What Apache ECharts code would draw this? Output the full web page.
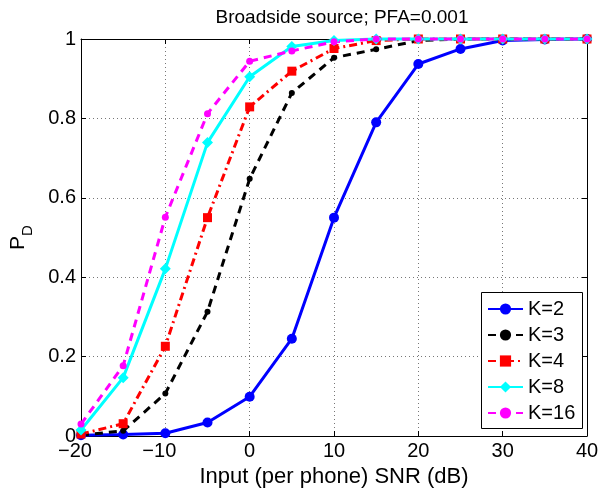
<!DOCTYPE html>
<html>
<head>
<meta charset="utf-8">
<script src="https://cdn.jsdelivr.net/npm/echarts@6/dist/echarts.min.js"></script>
<style>
    html, body { margin: 0; padding: 0; background: #fff; }
    #main { width: 600px; height: 491px; }
</style>
</head>
<body>
<div id="main"></div>
<script>
    // SNR values (dB) along x
    var snr = [-20, -15, -10, -5, 0, 5, 10, 15, 20, 25, 30, 35, 40];
    var seriesNames = ['K=2', 'K=3', 'K=4', 'K=8', 'K=16'];
    var k2 = [0.002, 0.004, 0.007, 0.034, 0.099, 0.245, 0.55, 0.79, 0.937, 0.975, 0.996, 0.999, 1];
    var k3 = [0.002, 0.013, 0.107, 0.313, 0.648, 0.864, 0.953, 0.974, 0.996, 1, 1, 1, 1];
    var k4 = [0.005, 0.031, 0.226, 0.55, 0.829, 0.919, 0.976, 0.996, 1, 1, 1, 1, 1];
    var k8 = [0.015, 0.147, 0.421, 0.739, 0.905, 0.981, 0.996, 1, 1, 1, 1, 1, 1];
    var k16 = [0.03, 0.177, 0.551, 0.812, 0.944, 0.97, 0.993, 1, 1, 1, 1, 1, 1];

    function pairs(vals) {
        return snr.map(function (x, i) { return [x, vals[i]]; });
    }

    var font = 'Liberation Sans, Arial, sans-serif';
    var myChart = echarts.init(document.getElementById('main'));

    var series = [
        { name: seriesNames[0], data: pairs(k2), color: '#0000ff', symbol: 'circle', symbolSize: 10, line: 'solid' },
        { name: seriesNames[1], data: pairs(k3), color: '#000000', symbol: 'circle', symbolSize: 6, line: [8, 6] },
        { name: seriesNames[2], data: pairs(k4), color: '#ff0000', symbol: 'rect', symbolSize: 9, line: [8, 4, 2, 4] },
        { name: seriesNames[3], data: pairs(k8), color: '#00ffff', symbol: 'diamond', symbolSize: 11, line: 'solid' },
        { name: seriesNames[4], data: pairs(k16), color: '#ff00ff', symbol: 'circle', symbolSize: 7, line: [8, 6] }
    ].map(function (s) {
        return {
            name: s.name,
            type: 'line',
            data: s.data,
            symbol: s.symbol,
            symbolSize: s.symbolSize,
            showSymbol: true,
            clip: false,
            xAxisIndex: 0,
            yAxisIndex: 0,
            color: s.color,
            itemStyle: { color: s.color },
            lineStyle: { color: s.color, width: 3, type: s.line }
        };
    });

    var dotted = { show: true, lineStyle: { color: '#777', width: 1, type: [1, 3] } };

    myChart.setOption({
        backgroundColor: '#fff',
        animation: false,
        title: {
            text: 'Broadside source; PFA=0.001',
            left: 337,
            textAlign: 'center',
            top: 3,
            textStyle: { fontFamily: font, fontSize: 19, fontWeight: 'normal', color: '#000' }
        },
        // legend frame
        graphic: [{
            type: 'rect',
            z: 3,
            shape: { x: 481.5, y: 292.5, width: 101, height: 136 },
            style: { fill: '#fff', stroke: '#000', lineWidth: 1 }
        }],
        legend: {
            orient: 'vertical',
            left: 487,
            top: 299,
            z: 5,
            data: seriesNames,
            itemWidth: 35,
            itemHeight: 14,
            itemGap: 6,
            padding: 0,
            textStyle: { fontFamily: font, fontSize: 20, color: '#000' }
        },
        grid: {
            left: 81,
            right: 13,
            top: 39,
            bottom: 55,
            containLabel: false,
            outerBoundsMode: 'none'
        },
        xAxis: [{
            type: 'value',
            min: -20,
            max: 40,
            interval: 10,
            name: 'Input (per phone) SNR (dB)',
            nameLocation: 'middle',
            nameGap: 20,
            nameTextStyle: { fontFamily: font, fontSize: 22, color: '#000' },
            axisLine: { onZero: false, lineStyle: { color: '#000', width: 1 } },
            axisTick: { inside: true, length: 5, lineStyle: { color: '#000' } },
            axisLabel: {
                fontFamily: font, fontSize: 20, color: '#000', margin: 5,
                formatter: function (v) { return v < 0 ? '{n|\u2212' + (-v) + '}' : String(v); },
                rich: {
                    n: { fontFamily: font, fontSize: 20, color: '#000', padding: [0, 12, 0, 0] }
                }
            },
            splitLine: dotted
        }, {
            type: 'value',
            position: 'top',
            min: -20,
            max: 40,
            interval: 10,
            axisLine: { show: true, onZero: false, lineStyle: { color: '#000', width: 1 } },
            axisTick: { inside: true, length: 5, lineStyle: { color: '#000' } },
            axisLabel: { show: false },
            splitLine: { show: false }
        }],
        yAxis: [{
            type: 'value',
            min: 0,
            max: 1,
            interval: 0.2,
            name: '{p|P}{d|D}',
            nameLocation: 'middle',
            nameRotate: 90,
            nameGap: 46,
            nameTextStyle: {
                fontFamily: font, color: '#000',
                rich: {
                    p: { fontFamily: font, fontSize: 21, color: '#000', verticalAlign: 'top' },
                    d: { fontFamily: font, fontSize: 15, color: '#000', verticalAlign: 'bottom', padding: [12, 0, 0, 0] }
                }
            },
            axisLine: { show: true, onZero: false, lineStyle: { color: '#000', width: 1 } },
            axisTick: { show: true, inside: true, length: 5, lineStyle: { color: '#000' } },
            axisLabel: { fontFamily: font, fontSize: 20, color: '#000', margin: 5 },
            splitLine: dotted
        }, {
            type: 'value',
            position: 'right',
            min: 0,
            max: 1,
            interval: 0.2,
            axisLine: { show: true, onZero: false, lineStyle: { color: '#000', width: 1 } },
            axisTick: { show: true, inside: true, length: 5, lineStyle: { color: '#000' } },
            axisLabel: { show: false },
            splitLine: { show: false }
        }],
        series: series
    });
</script>
</body>
</html>
